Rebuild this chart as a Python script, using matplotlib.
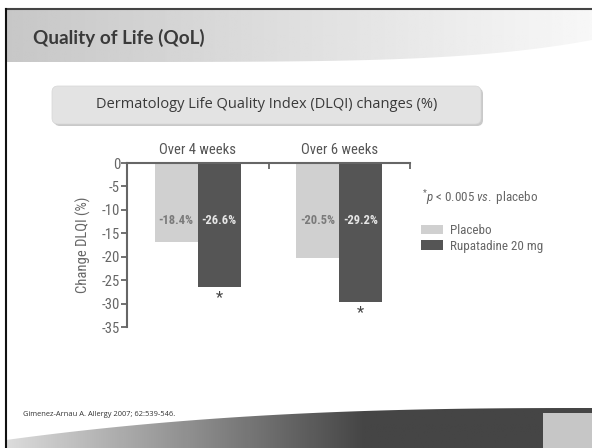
import numpy as np
import matplotlib
matplotlib.use("Agg")
import matplotlib.pyplot as plt
from matplotlib import font_manager
from matplotlib.patches import Polygon, FancyBboxPatch, Rectangle

# data
groups = ["Over 4 weeks", "Over 6 weeks"]
placebo = [-16.9, -20.3]          # bar heights as drawn
rupatadine = [-26.5, -29.7]
placebo_labels = ["-18.4%", "-20.5%"]  # printed values
rupatadine_labels = ["-26.6%", "-29.2%"]
yticks = [0, -5, -10, -15, -20, -25, -30, -35]

names = {f.name for f in font_manager.fontManager.ttflist}
narrow = next((n for n in ["Liberation Sans Narrow", "Roboto Condensed", "Roboto"] if n in names), "DejaVu Sans")
plt.rcParams["font.family"] = [narrow, "DejaVu Sans"]
plt.rcParams["mathtext.fontset"] = "custom"
plt.rcParams["mathtext.rm"] = narrow
plt.rcParams["mathtext.it"] = narrow + ":italic"

W, H = 592, 448
fig = plt.figure(figsize=(W / 100, H / 100), dpi=100)

# slide background, pixel coordinates
bg = fig.add_axes([0, 0, 1, 1], zorder=0)
bg.set_xlim(0, W)
bg.set_ylim(H, 0)
bg.axis("off")

# header band with gradient and curved lower edge
xs = np.linspace(6, W, 300)
lower = 62 - 22 * ((xs - 6) / (W - 6)) ** 5
hdr = Polygon(np.vstack([np.column_stack([xs, lower]), [[W, 9], [6, 9]]]),
              closed=True, facecolor="none", edgecolor="none")
bg.add_patch(hdr)
grad = np.linspace(0.78, 0.97, 256)[None, :]
im = bg.imshow(grad, cmap="gray", vmin=0, vmax=1, extent=[6, W, 62, 9],
               aspect="auto", zorder=1)
im.set_clip_path(hdr)

# bottom swoosh
top = 408 + 32 * (1 - (xs - 6) / (W - 6)) ** 2.5
sw = Polygon(np.vstack([np.column_stack([xs, top]), [[W, H], [6, H]]]),
             closed=True, facecolor="none", edgecolor="none")
bg.add_patch(sw)
g2 = np.clip(np.linspace(0.86, -0.1, 256), 0.27, 1)[None, :]
im2 = bg.imshow(g2, cmap="gray", vmin=0, vmax=1, extent=[6, W, H, 400],
                aspect="auto", zorder=1)
im2.set_clip_path(sw)
bg.add_patch(Rectangle((543, 413), W - 543, H - 413, facecolor="#c6c6c6",
                       edgecolor="none", zorder=2))

# slide border
bg.plot([6, W], [9, 9], color="#444444", lw=1.5, zorder=3)
bg.plot([6, 6], [9, H], color="#111111", lw=1.5, zorder=3)

bg.text(33, 38, "Quality of Life (QoL)", fontsize=13.6, fontweight="bold",
        color="#3a3a3a", family=["Lato", "DejaVu Sans"], va="center", zorder=4)

# subtitle box
bg.add_patch(FancyBboxPatch((54, 88), 429, 38, boxstyle="round,pad=0,rounding_size=6",
                            facecolor="#c9c9c9", edgecolor="none", zorder=2))
bg.add_patch(FancyBboxPatch((52, 86), 429, 38, boxstyle="round,pad=0,rounding_size=6",
                            facecolor="#e3e3e3", edgecolor="#d6d6d6", lw=0.5, zorder=3))
bg.text(267, 105, "Dermatology Life Quality Index (DLQI) changes (%)", fontsize=10.5,
        color="#3a3a3a", family=["Open Sans", "DejaVu Sans"], ha="center", va="center", zorder=4)

bg.text(23, 415, "Gimenez-Arnau A. Allergy 2007; 62:539-546.", fontsize=5.4,
        color="#333333", family=["Open Sans", "DejaVu Sans"], va="center", zorder=4)

# chart
ax = fig.add_axes([127 / W, 1 - 327 / H, (410 - 127) / W, (327 - 163) / H], zorder=2)
ax.patch.set_alpha(0)
x = np.arange(len(groups))
bw = 0.304
c_pl, c_ru = "#d0d0d0", "#555555"
ax.bar(x - bw / 2, placebo, bw, color=c_pl, label="Placebo")
ax.bar(x + bw / 2, rupatadine, bw, color=c_ru, label="Rupatadine 20 mg")

for i in range(len(groups)):
    ax.text(x[i] - bw / 2, -12.2, placebo_labels[i], ha="center", va="center",
            fontsize=9, fontweight="bold", color="#7a7a7a")
    ax.text(x[i] + bw / 2, -12.2, rupatadine_labels[i], ha="center", va="center",
            fontsize=9, fontweight="bold", color="#e6e6e6")
    ax.text(x[i] + bw / 2, rupatadine[i] - 2.3, "*", ha="center", va="center",
            fontsize=12, color="#444444")
    ax.text(x[i], 2.8, groups[i], ha="center", va="center", fontsize=10.5,
            color="#555555", clip_on=False)

ax.set_xlim(-0.5, 1.5)
ax.set_ylim(-35, 0)
ax.set_yticks(yticks)
ax.set_yticklabels([str(v) for v in yticks])
ax.xaxis.tick_top()
ax.set_xticks([0.5, 1.5])
ax.set_xticklabels([])
ax.tick_params(axis="x", direction="in", length=4, width=1.3, color="#666666")
ax.tick_params(axis="y", direction="out", length=4, width=1.3, color="#666666",
               labelcolor="#666666", labelsize=10.5, pad=1)
for s in ["right", "bottom"]:
    ax.spines[s].set_visible(False)
for s in ["top", "left"]:
    ax.spines[s].set_color("#666666")
    ax.spines[s].set_linewidth(1.5)
ax.set_ylabel("Change DLQI (%)", fontsize=10.5, color="#666666", labelpad=8)

fig.text(422 / W, 1 - 198 / H, r"$^{*}$$\it{p}$ < 0.005 $\it{vs.}$ placebo", fontsize=9.4,
         color="#666666", va="center")
fig.legend(loc="upper left", bbox_to_anchor=(421 / W, 1 - 224 / H), frameon=False,
           fontsize=9.4, handlelength=1.7, handleheight=0.7, handletextpad=0.5,
           labelspacing=0.2, labelcolor="#666666", borderpad=0, borderaxespad=0)

fig.savefig("out.png", dpi=100)
